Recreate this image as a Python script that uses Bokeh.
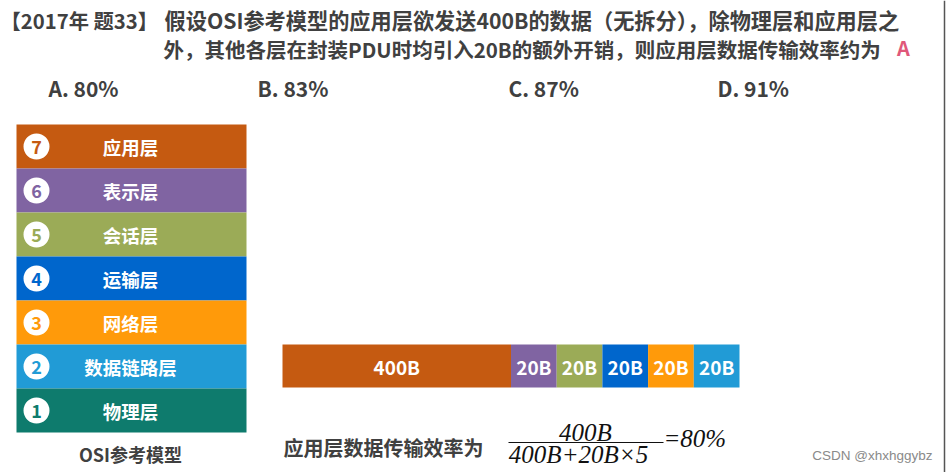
from bokeh.plotting import figure
from bokeh.models import Range1d, ColumnDataSource
from bokeh.core.properties import value
from bokeh.embed import file_html
from bokeh.resources import INLINE

# ---------------- data ----------------
title_head = "【2017年 题33】"
title_line1 = "假设OSI参考模型的应用层欲发送400B的数据（无拆分），除物理层和应用层之"
title_line2 = "外，其他各层在封装PDU时均引入20B的额外开销，则应用层数据传输效率约为"
answer = "A"
options = ["A. 80%", "B. 83%", "C. 87%", "D. 91%"]

layer_names = ["应用层", "表示层", "会话层", "运输层", "网络层", "数据链路层", "物理层"]
layer_nums = ["7", "6", "5", "4", "3", "2", "1"]
layer_colors = ["#C55A11", "#8064A2", "#9BAB57", "#0066CC", "#FF9A0A", "#219BD6", "#0E7B6D"]
model_caption = "OSI参考模型"

pdu_labels = ["400B", "20B", "20B", "20B", "20B", "20B"]
pdu_bytes = [400, 20, 20, 20, 20, 20]
pdu_display_units = [5, 1, 1, 1, 1, 1]   # schematic widths, not proportional
pdu_colors = layer_colors[:6]

eff_label = "应用层数据传输效率为"
frac_num = "400B"
frac_den = "400B+20B×5"
frac_result = "=80%"
watermark = "CSDN @xhxhggybz"

CJK = value("Noto Sans CJK SC")
SERIF = value("Liberation Serif")
DARK = "#404040"

W, H = 948, 472
p = figure(width=W, height=H, output_backend="svg", toolbar_location=None,
           x_range=Range1d(0, W), y_range=Range1d(H, 0),
           min_border=0, outline_line_color=None)
p.axis.visible = False
p.grid.visible = False
p.background_fill_color = "white"
p.border_fill_color = "white"

# ---- title ----
p.text(x=[0], y=[19], text=[title_head], text_font=CJK, text_font_style="bold",
       text_font_size="20.3px", text_color=DARK, text_baseline="middle", text_align="left")
p.text(x=[164], y=[19], text=[title_line1], text_font=CJK, text_font_style="bold",
       text_font_size="21.2px", text_color=DARK, text_baseline="middle", text_align="left")
p.text(x=[163], y=[48], text=[title_line2], text_font=CJK, text_font_style="bold",
       text_font_size="20.5px", text_color=DARK, text_baseline="middle", text_align="left")
p.text(x=[903], y=[47], text=[answer], text_font=CJK, text_font_style="bold",
       text_font_size="20px", text_color="#E0587A", text_baseline="middle", text_align="center")

opt_x = [48, 257, 508, 717]
p.text(x=opt_x, y=[87] * 4, text=options, text_font=CJK, text_font_style="bold",
       text_font_size="21px", text_color=DARK, text_baseline="middle", text_align="left")

# ---- OSI stack ----
row_h = 44
top = 124
n = len(layer_names)
tops = [top + i * row_h for i in range(n)]
src = ColumnDataSource(dict(
    left=[16] * n, right=[246] * n, top=tops, bottom=[t + row_h for t in tops],
    yc=[t + row_h / 2 for t in tops], name=layer_names, num=layer_nums, color=layer_colors))
p.quad(left="left", right="right", top="top", bottom="bottom", fill_color="color",
       line_color=None, source=src)
p.scatter(x=36, y="yc", size=26, fill_color="white", line_color=None, source=src)
p.text(x=36, y="yc", text="num", text_color="color", text_font=CJK, text_font_style="bold",
       text_font_size="18px", text_align="center", text_baseline="middle", source=src)
p.text(x=130, y="yc", text="name", text_color="white", text_font=CJK, text_font_style="bold",
       text_font_size="18.5px", text_align="center", text_baseline="middle", source=src)
p.text(x=[130], y=[453], text=[model_caption], text_color=DARK, text_font=CJK,
       text_font_style="bold", text_font_size="18px", text_align="center", text_baseline="middle")

# ---- PDU bar ----
bar_l, bar_r = 282, 739
unit = (bar_r - bar_l) / sum(pdu_display_units)
lefts, rights = [], []
acc = bar_l
for u in pdu_display_units:
    lefts.append(acc)
    acc += u * unit
    rights.append(acc)
bsrc = ColumnDataSource(dict(left=lefts, right=rights, xc=[(a + b) / 2 for a, b in zip(lefts, rights)],
                             label=pdu_labels, color=pdu_colors))
p.quad(left="left", right="right", top=344, bottom=387, fill_color="color", line_color=None, source=bsrc)
p.text(x="xc", y=366, text="label", text_color="white", text_font=CJK, text_font_style="bold",
       text_font_size="19px", text_align="center", text_baseline="middle", source=bsrc)

# ---- efficiency formula ----
p.text(x=[283], y=[447], text=[eff_label], text_color=DARK, text_font=CJK, text_font_style="bold",
       text_font_size="20px", text_align="left", text_baseline="middle")
p.text(x=[585], y=[432], text=[frac_num], text_color="#111111", text_font=SERIF,
       text_font_style="italic", text_font_size="25px", text_align="center", text_baseline="middle")
p.segment(x0=[508], y0=[442], x1=[663], y1=[442], line_color="#111111", line_width=1.2)
p.text(x=[578], y=[454], text=[frac_den], text_color="#111111", text_font=SERIF,
       text_font_style="italic", text_font_size="25px", text_align="center", text_baseline="middle")
p.text(x=[663], y=[438], text=[frac_result], text_color="#111111", text_font=SERIF,
       text_font_style="italic", text_font_size="25px", text_align="left", text_baseline="middle")

# ---- watermark & edge ----
p.text(x=[932], y=[455], text=[watermark], text_color="#8a8a8a", text_font=value("Liberation Sans"),
       text_font_size="13.5px", text_align="right", text_baseline="middle")
p.segment(x0=[944], y0=[0], x1=[944], y1=[472], line_color="#555555", line_width=1.5)

open("out.html", "w").write(file_html(p, INLINE))
